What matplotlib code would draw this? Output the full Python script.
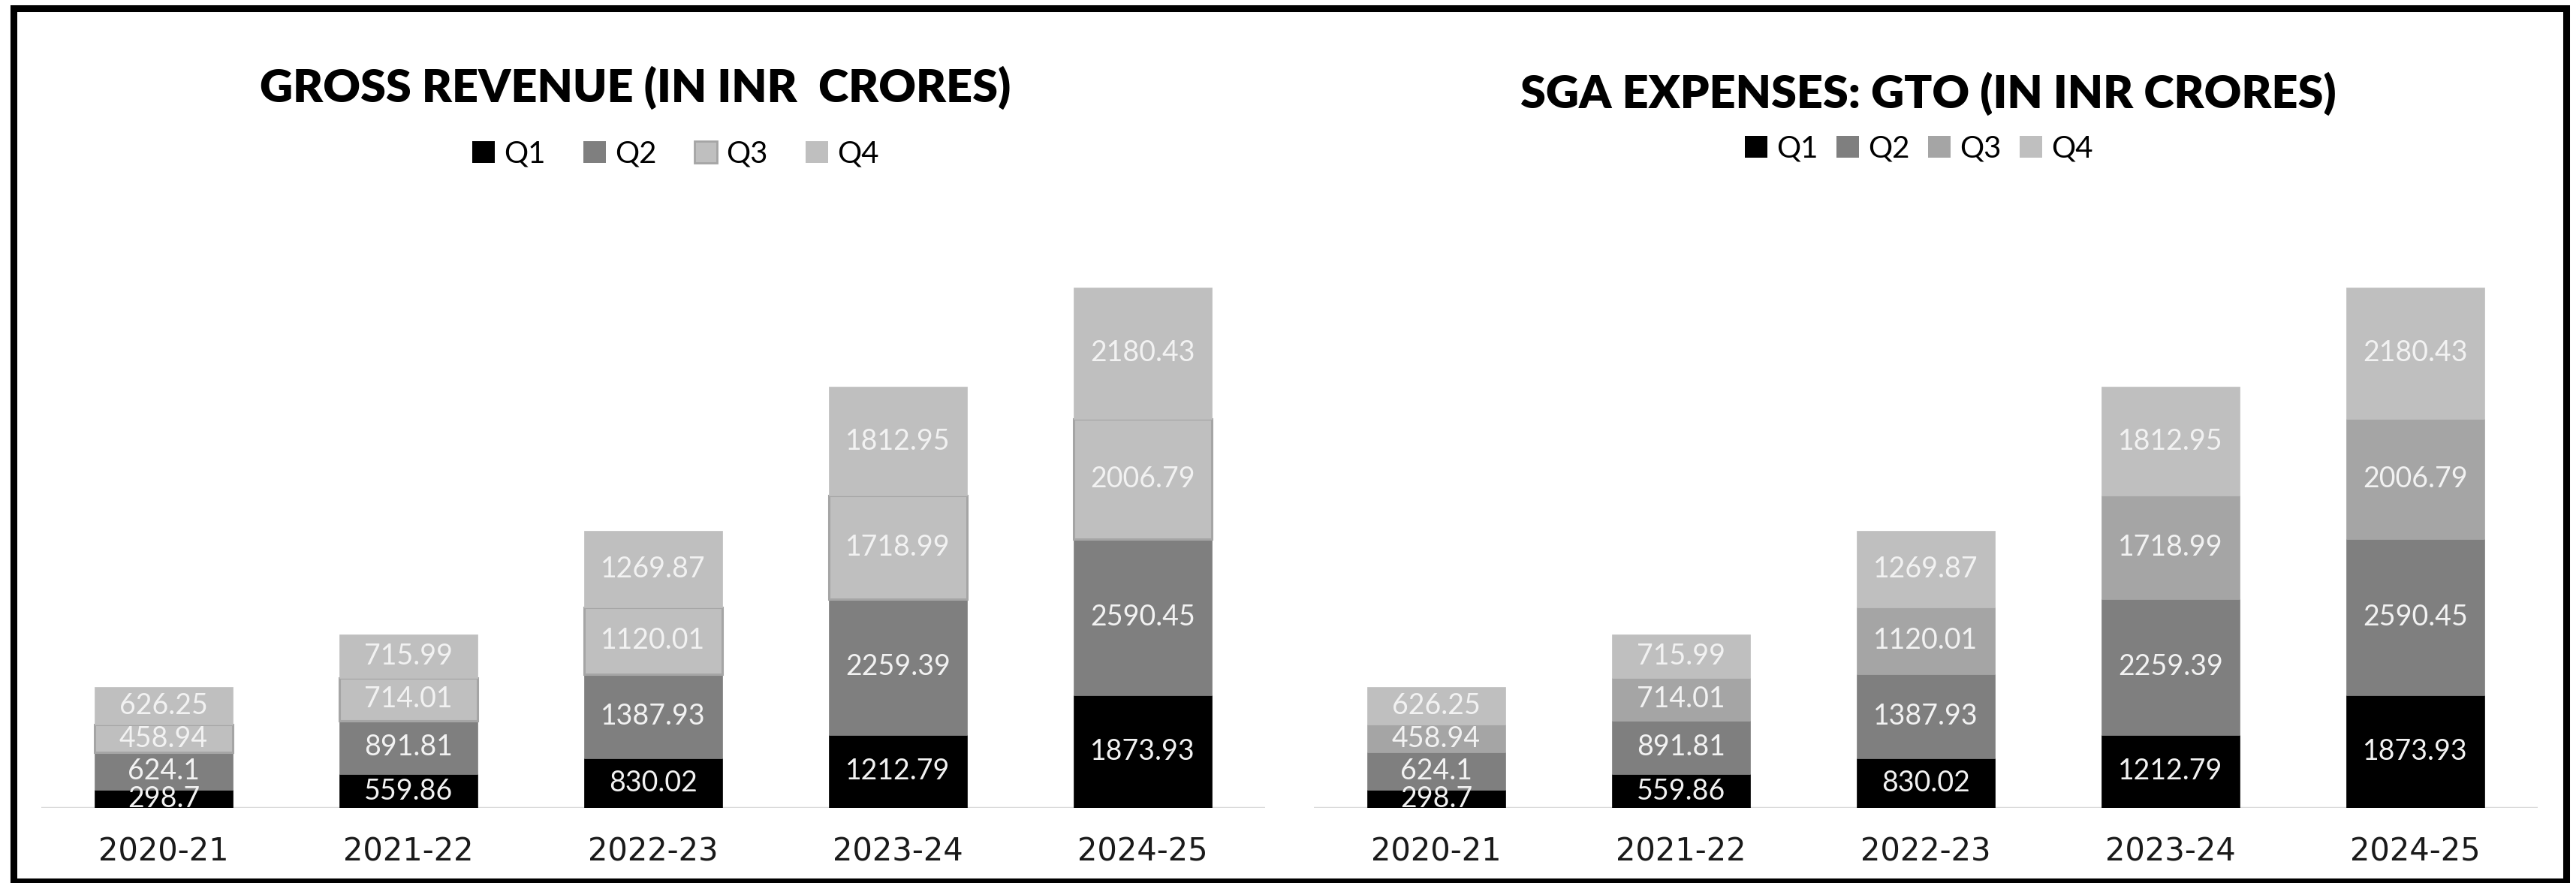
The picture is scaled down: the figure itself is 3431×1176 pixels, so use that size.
import matplotlib
matplotlib.use("Agg")
import matplotlib.pyplot as plt
from matplotlib.patches import Patch, Rectangle

# ---- data ----
years = ["2020-21", "2021-22", "2022-23", "2023-24", "2024-25"]
quarters = ["Q1", "Q2", "Q3", "Q4"]

rev_q1 = [298.7, 559.86, 830.02, 1212.79, 1873.93]
rev_q2 = [624.1, 891.81, 1387.93, 2259.39, 2590.45]
rev_q3 = [458.94, 714.01, 1120.01, 1718.99, 2006.79]
rev_q4 = [626.25, 715.99, 1269.87, 1812.95, 2180.43]

sga_q1 = [298.7, 559.86, 830.02, 1212.79, 1873.93]
sga_q2 = [624.1, 891.81, 1387.93, 2259.39, 2590.45]
sga_q3 = [458.94, 714.01, 1120.01, 1718.99, 2006.79]
sga_q4 = [626.25, 715.99, 1269.87, 1812.95, 2180.43]

left_title = "GROSS REVENUE (IN INR  CRORES)"
right_title = "SGA EXPENSES: GTO (IN INR CRORES)"

W, H = 3431, 1176
fig = plt.figure(figsize=(W / 100, H / 100), dpi=100)
fig.patch.set_facecolor("white")

label_font = "Lato"
tick_font = "DejaVu Sans"
bar_w = 0.567


def make_chart(ax, series, colors, edges):
    bottoms = [0.0] * len(years)
    for vals, c, e in zip(series, colors, edges):
        if e is None:
            cont = ax.bar(years, vals, bar_w, bottom=bottoms, color=c,
                          edgecolor=c, linewidth=0.5, zorder=3)
        else:
            cont = ax.bar(years, vals, bar_w, bottom=bottoms, color=c,
                          edgecolor=e, linewidth=2.2, zorder=3)
        ax.bar_label(cont, labels=[str(v) for v in vals], label_type="center",
                     color="#f2f2f2", fontsize=27, family=label_font, zorder=5)
        bottoms = [b + v for b, v in zip(bottoms, vals)]
    ax.set_xlim(-0.5, len(years) - 0.5)
    ax.set_ylim(0, 10000)
    for s in ax.spines.values():
        s.set_visible(False)
    ax.axhline(0, color="#d9d9d9", linewidth=2.5, zorder=2)
    ax.set_yticks([])
    ax.set_xticks(range(len(years)))
    ax.set_xticklabels(years, fontsize=30, family=tick_font, color="#1a1a1a")
    ax.tick_params(axis="x", length=0, pad=27)


ax_h = 0.6811
ax_b = 100 / H
axL = fig.add_axes([55 / W, ax_b, 1630 / W, ax_h])
axR = fig.add_axes([1750 / W, ax_b, 1630 / W, ax_h])
for a in (axL, axR):
    a.patch.set_alpha(0)

left_colors = ["#000000", "#7f7f7f", "#bfbfbf", "#bfbfbf"]
left_edges = [None, None, "#a5a5a5", None]
right_colors = ["#000000", "#7f7f7f", "#a5a5a5", "#bfbfbf"]
right_edges = [None, None, None, None]

make_chart(axL, [rev_q1, rev_q2, rev_q3, rev_q4], left_colors, left_edges)
make_chart(axR, [sga_q1, sga_q2, sga_q3, sga_q4], right_colors, right_edges)

# titles
fig.text(846 / W, 1 - 117 / H, left_title, ha="center", va="center",
         fontsize=44, fontweight="heavy", family="Lato", color="black")
fig.text(2568 / W, 1 - 125 / H, right_title, ha="center", va="center",
         fontsize=44, fontweight="heavy", family="Lato", color="black")

# legends
hL = [Patch(facecolor=c, edgecolor=(e if e else c), linewidth=(2 if e else 0))
      for c, e in zip(left_colors, left_edges)]
hR = [Patch(facecolor=c, edgecolor=c, linewidth=0) for c in right_colors]
legL = fig.legend(hL, quarters, loc="center", bbox_to_anchor=(900 / W, 1 - 205 / H),
                  ncol=4, frameon=False, prop={"family": label_font, "size": 29},
                  handlelength=0.75, handleheight=0.75, handletextpad=0.3,
                  columnspacing=1.25, borderpad=0)
legR = fig.legend(hR, quarters, loc="center", bbox_to_anchor=(2556 / W, 1 - 198 / H),
                  ncol=4, frameon=False, prop={"family": label_font, "size": 29},
                  handlelength=0.75, handleheight=0.75, handletextpad=0.3,
                  columnspacing=0.6, borderpad=0)

# outer frame
fig.add_artist(Rectangle((17.5 / W, 2.5 / H), (3417.5 - 17.5) / W, (1165 - 2.5) / H,
                         transform=fig.transFigure, fill=False, edgecolor="black",
                         linewidth=6.5))

fig.savefig("out.png", dpi=100, facecolor="white")
